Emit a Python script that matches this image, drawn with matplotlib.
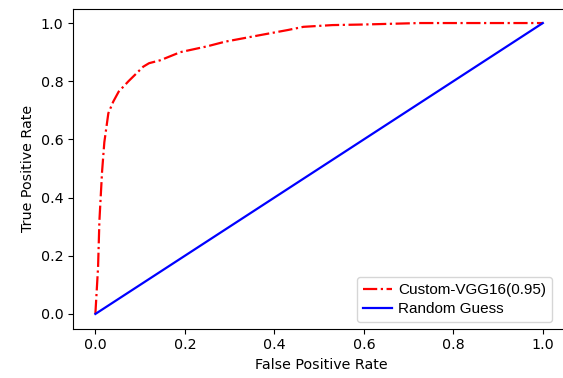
import numpy as np
import matplotlib
matplotlib.use('Agg')
import matplotlib.pyplot as plt

# ROC curve
fpr = [0, 0.006, 0.009, 0.015, 0.02, 0.029, 0.04, 0.052, 0.074, 0.107, 0.12,
       0.145, 0.19, 0.25, 0.29, 0.37, 0.43, 0.465, 0.53, 0.6, 0.725, 0.8, 1.0]
tpr = [0, 0.16, 0.32, 0.49, 0.59, 0.69, 0.73, 0.764, 0.80, 0.85, 0.862,
       0.872, 0.90, 0.92, 0.936, 0.959, 0.976, 0.987, 0.993, 0.995, 1.0, 1.0, 1.0]
rand_x = [0, 1]
rand_y = [0, 1]

model_label = 'Custom-VGG16(0.95)'
rand_label = 'Random Guess'

plt.rcParams['font.family'] = 'DejaVu Sans'
plt.rcParams['font.size'] = 10.3

fig = plt.figure(figsize=(5.63, 3.78), dpi=100)
ax = fig.add_axes([73/563, 1 - 328.5/378, 496/563, 320/378])

ax.plot(fpr, tpr, color='red', linestyle='-.', linewidth=1.6, label=model_label)
ax.plot(rand_x, rand_y, color='blue', linewidth=1.6, label=rand_label)

ax.set_xlim(-0.05, 1.0585)
ax.set_ylim(-0.05, 1.05)
ax.set_xticks(np.arange(0, 1.01, 0.2))
ax.set_yticks(np.arange(0, 1.01, 0.2))
ax.set_xlabel('False Positive Rate')
ax.set_ylabel('True Positive Rate')
# the reference is cropped just before the right spine
ax.spines['right'].set_visible(False)
ax.legend(loc='lower right', prop={'family': 'Liberation Sans', 'size': 11},
          bbox_to_anchor=(552/563, 1 - 322/378), bbox_transform=fig.transFigure,
          borderaxespad=0, borderpad=0.4, handlelength=1.9, handletextpad=0.4,
          labelspacing=0.3)

fig.savefig('out.png', dpi=100)
